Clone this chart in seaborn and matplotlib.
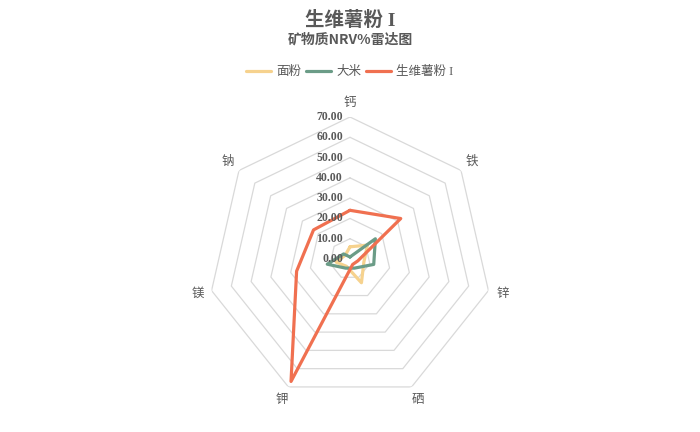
import numpy as np
import pandas as pd
import matplotlib
matplotlib.use("Agg")
import matplotlib.pyplot as plt
import matplotlib.transforms as mtrans
from matplotlib.lines import Line2D
import seaborn as sns

# ---- data ----
categories = ['钙', '铁', '锌', '硒', '钾', '镁', '钠']
series_names = ['面粉', '大米', '生维薯粉 I']
flour = [6, 11, 7, 13, 4, 7, 3]
rice = [1, 16, 12, 5, 5, 11.5, 4]
sweet_potato = [24, 32, 4, 3, 67, 27, 23]
radial_ticks = [0, 10, 20, 30, 40, 50, 60, 70]
colors = ['#F6D28E', '#6B9C87', '#F07050']

sns.set_theme(style='white')
plt.rcParams['font.family'] = ['Noto Sans CJK SC', 'DejaVu Sans']
mixed = ['Liberation Serif', 'Noto Sans CJK SC', 'DejaVu Sans']

n = len(categories)
angles = np.linspace(0, 2 * np.pi, n, endpoint=False)
closed_angles = np.append(angles, 2 * np.pi)

rows = []
for name, vals in zip(series_names, [flour, rice, sweet_potato]):
    v = list(vals) + [vals[0]]
    for a, val in zip(closed_angles, v):
        rows.append({'theta': a, 'value': val, 'series': name})
df = pd.DataFrame(rows)

fig = plt.figure(figsize=(7, 4.32), dpi=100)
cx, cy, R = 350, 259, 142
ax = fig.add_axes([(cx - R) / 700, (432 - cy - R) / 432, 2 * R / 700, 2 * R / 432],
                  projection='polar')
ax.set_theta_zero_location('N')
ax.set_theta_direction(-1)
ax.set_ylim(0, 70)
ax.grid(False)
ax.set_xticks([])
ax.set_yticks([])
ax.spines['polar'].set_visible(False)
ax.patch.set_alpha(0)

# heptagon grid
for lvl in radial_ticks[1:]:
    ax.plot(closed_angles, [lvl] * (n + 1), color='#D9D9D9', lw=0.9, zorder=0)

sns.lineplot(data=df, x='theta', y='value', hue='series', hue_order=series_names,
             palette=colors, sort=False, estimator=None, linewidth=2.3,
             legend=False, ax=ax)
ax.set_xlabel('')
ax.set_ylabel('')

# radial tick labels
off = mtrans.offset_copy(ax.transData, fig=fig, x=-7, y=0, units='dots')
for t in radial_ticks:
    ax.text(0, t, f'{t:.2f}', transform=off, ha='right', va='center',
            fontsize=8.5, fontweight='bold', color='#595959',
            family=['Liberation Serif', 'DejaVu Serif'])

# category labels
for a, c in zip(angles, categories):
    ax.text(a, 77, c, ha='center', va='center', fontsize=9, color='#595959',
            clip_on=False)

fig.text(0.5, 1 - 20 / 432, '生维薯粉 I', ha='center', va='center',
         fontsize=14, fontweight='bold', color='#595959', family=mixed)
fig.text(0.5, 1 - 40 / 432, '矿物质NRV%雷达图', ha='center', va='center',
         fontsize=10, fontweight='bold', color='#595959')

handles = [Line2D([], [], color=c, lw=2.3) for c in colors]
leg = fig.legend(handles, series_names, loc='center', bbox_to_anchor=(0.5, 1 - 72 / 432),
                 ncol=3, frameon=False, fontsize=9, handlelength=2.0,
                 handletextpad=0.4, columnspacing=0.4)
for t in leg.get_texts():
    t.set_color('#595959')
    t.set_family(mixed)

fig.savefig('out.png', dpi=100)
